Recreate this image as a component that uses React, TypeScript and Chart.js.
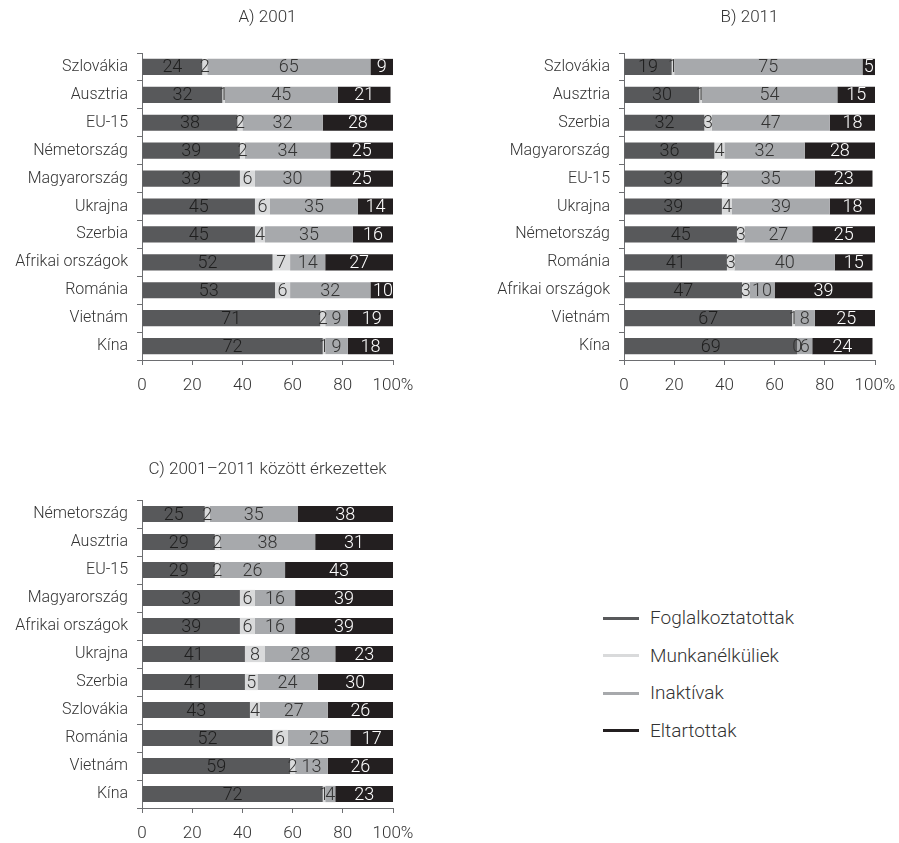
import React, { useEffect, useRef } from 'react';
import { Chart, registerables } from 'chart.js';
Chart.register(...registerables);

const FONT = "Roboto, 'Noto Sans', 'DejaVu Sans Condensed', sans-serif";
const FONT_SIZE = 16;
const FONT_WEIGHT = '300';
const TEXT = '#333333';
const AXIS = '#6d6e71';

const SERIES = ['Foglalkoztatottak', 'Munkanélküliek', 'Inaktívak', 'Eltartottak'];
const COLORS = ['#58595b', '#d9dadb', '#a7a9ac', '#231f20'];
const LABEL_COLORS = ['#1e1e1e', '#333333', '#333333', '#ffffff'];

// A) 2001
const catsA = ['Szlovákia', 'Ausztria', 'EU-15', 'Németország', 'Magyarország', 'Ukrajna', 'Szerbia', 'Afrikai országok', 'Románia', 'Vietnám', 'Kína'];
const fogA = [24, 32, 38, 39, 39, 45, 45, 52, 53, 71, 72];
const munA = [2, 1, 2, 2, 6, 6, 4, 7, 6, 2, 1];
const inaA = [65, 45, 32, 34, 30, 35, 35, 14, 32, 9, 9];
const eltA = [9, 21, 28, 25, 25, 14, 16, 27, 10, 19, 18];

// B) 2011
const catsB = ['Szlovákia', 'Ausztria', 'Szerbia', 'Magyarország', 'EU-15', 'Ukrajna', 'Németország', 'Románia', 'Afrikai országok', 'Vietnám', 'Kína'];
const fogB = [19, 30, 32, 36, 39, 39, 45, 41, 47, 67, 69];
const munB = [1, 1, 3, 4, 2, 4, 3, 3, 3, 1, 0];
const inaB = [75, 54, 47, 32, 35, 39, 27, 40, 10, 8, 6];
const eltB = [5, 15, 18, 28, 23, 18, 25, 15, 39, 25, 24];

// C) 2001–2011 között érkezettek
const catsC = ['Németország', 'Ausztria', 'EU-15', 'Magyarország', 'Afrikai országok', 'Ukrajna', 'Szerbia', 'Szlovákia', 'Románia', 'Vietnám', 'Kína'];
const fogC = [25, 29, 29, 39, 39, 41, 41, 43, 52, 59, 72];
const munC = [2, 2, 2, 6, 6, 8, 5, 4, 6, 2, 1];
const inaC = [35, 38, 26, 16, 16, 28, 24, 27, 25, 13, 4];
const eltC = [38, 31, 43, 39, 39, 23, 30, 26, 17, 26, 23];

const X_MIN = 0;
const X_MAX = 100;
const X_STEP = 20;

const valueLabels = {
  id: 'valueLabels',
  afterDatasetsDraw(chart: any) {
    const ctx = chart.ctx;
    ctx.save();
    ctx.font = `${FONT_WEIGHT} 18px ${FONT}`;
    ctx.textAlign = 'center';
    ctx.textBaseline = 'middle';
    chart.data.datasets.forEach((ds: any, i: number) => {
      const meta = chart.getDatasetMeta(i);
      meta.data.forEach((el: any, j: number) => {
        const v = ds.data[j];
        const p = el.getProps(['x', 'base', 'y'], true);
        ctx.fillStyle = LABEL_COLORS[i];
        ctx.fillText(String(v), (p.x + p.base) / 2, p.y + 1);
      });
    });
    ctx.restore();
  },
};

type PanelProps = {
  title: string;
  cats: string[];
  series: number[][];
  left: number;
  top: number;
  width: number;
  height: number;
  yWidth: number;
  padRight: number;
  titleTop: number;
  titleBottom: number;
};

function Panel(props: PanelProps) {
  const ref = useRef<HTMLCanvasElement>(null);
  useEffect(() => {
    if (!ref.current) return;
    const font = { family: FONT, size: FONT_SIZE, weight: FONT_WEIGHT, lineHeight: 1.2 };
    const chart = new Chart(ref.current, {
      type: 'bar',
      data: {
        labels: props.cats,
        datasets: props.series.map((d, i) => ({
          label: SERIES[i],
          data: d,
          backgroundColor: COLORS[i],
          borderWidth: 0,
          barPercentage: 0.58,
          categoryPercentage: 1,
        })),
      },
      options: {
        indexAxis: 'y',
        responsive: false,
        animation: false,
        events: [],
        layout: { padding: { left: 0, right: props.padRight, top: 0, bottom: 0 } },
        plugins: {
          legend: { display: false },
          tooltip: { enabled: false },
          title: {
            display: true,
            text: props.title,
            fullSize: false,
            color: TEXT,
            font: { family: FONT, size: 17, weight: FONT_WEIGHT, lineHeight: 1.2 },
            padding: { top: props.titleTop, bottom: props.titleBottom },
          },
        },
        scales: {
          x: {
            stacked: true,
            min: X_MIN,
            max: X_MAX,
            ticks: {
              stepSize: X_STEP,
              color: TEXT,
              font: { ...font, size: 17 },
              padding: 11,
              maxRotation: 0,
              minRotation: 0,
              autoSkip: false,
              callback: (v: any) => (v === X_MAX ? `${v}%` : String(v)),
            },
            grid: { drawOnChartArea: false, drawTicks: true, tickLength: 5, color: AXIS },
            border: { color: AXIS, width: 1 },
            afterFit: (s: any) => {
              s.height = 40;
              s.paddingLeft = 0;
              s.paddingRight = 0;
            },
          },
          y: {
            stacked: true,
            ticks: { color: TEXT, font, padding: 9, autoSkip: false },
            grid: { offset: true, drawOnChartArea: false, drawTicks: true, tickLength: 5, color: AXIS },
            border: { color: AXIS, width: 1 },
            afterFit: (s: any) => {
              s.width = props.yWidth;
              s.paddingTop = 0;
              s.paddingBottom = 0;
            },
          },
        },
      } as any,
      plugins: [valueLabels],
    });
    return () => chart.destroy();
  }, []);
  return (
    <canvas
      ref={ref}
      width={props.width}
      height={props.height}
      style={{ position: 'absolute', left: props.left, top: props.top, width: props.width, height: props.height }}
    />
  );
}

function Legend() {
  const centers = [618, 655.5, 693, 730.5];
  return (
    <>
      {SERIES.map((s, i) => (
        <div key={s}>
          <div style={{ position: 'absolute', left: 603, top: centers[i] - 1.5, width: 36, height: 3, background: COLORS[i] }} />
          <div
            style={{
              position: 'absolute',
              left: 650,
              top: centers[i] - 12,
              height: 24,
              lineHeight: '24px',
              fontFamily: FONT,
              fontSize: 19,
              fontWeight: 300,
              color: TEXT,
              whiteSpace: 'nowrap',
            }}
          >
            {s}
          </div>
        </div>
      ))}
    </>
  );
}

export default function App() {
  return (
    <div style={{ position: 'fixed', left: 0, top: 0, width: 899, height: 843, background: '#fff', overflow: 'hidden' }}>
      <Panel title="A) 2001" cats={catsA} series={[fogA, munA, inaA, eltA]} left={0} top={0} width={420} height={400} yWidth={142} padRight={27} titleTop={8} titleBottom={24.6} />
      <Panel title="B) 2011" cats={catsB} series={[fogB, munB, inaB, eltB]} left={460} top={0} width={439} height={400} yWidth={164} padRight={24} titleTop={8} titleBottom={24.6} />
      <Panel title="C) 2001–2011 között érkezettek" cats={catsC} series={[fogC, munC, inaC, eltC]} left={0} top={440} width={420} height={408} yWidth={142} padRight={27} titleTop={20} titleBottom={19.6} />
      <Legend />
    </div>
  );
}
